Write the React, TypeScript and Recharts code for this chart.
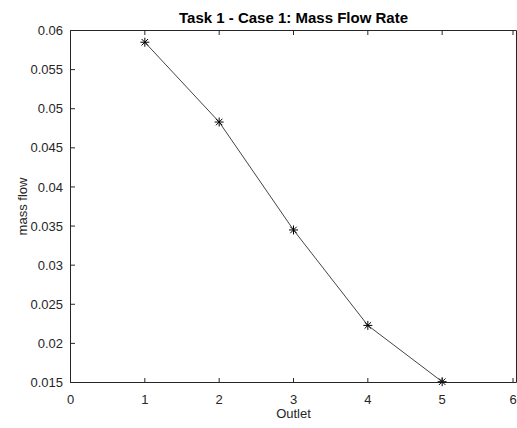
import { LineChart, Line, XAxis, YAxis } from "recharts";

const outlets = [1, 2, 3, 4, 5];
const massFlow = [0.0585, 0.0483, 0.0345, 0.0223, 0.0151];
const xTicks = [0, 1, 2, 3, 4, 5, 6];
const yTicks = [0.015, 0.02, 0.025, 0.03, 0.035, 0.04, 0.045, 0.05, 0.055, 0.06];

const data = outlets.map((o, i) => ({ outlet: o, flow: massFlow[i] }));

const FONT = '"Liberation Sans", Arial, Helvetica, sans-serif';
const AXIS = "#262626";
const TICK_LEN = 4.5;
const X_GAP = 12;
const Y_GAP = 7.5;

const Asterisk = (props: any) => {
  const { cx, cy } = props;
  if (cx == null || cy == null) return <g />;
  const r = 4.5;
  const d = r * 0.72;
  return (
    <g stroke="#000" strokeWidth={1}>
      <line x1={cx - r} y1={cy} x2={cx + r} y2={cy} />
      <line x1={cx} y1={cy - r} x2={cx} y2={cy + r} />
      <line x1={cx - d} y1={cy - d} x2={cx + d} y2={cy + d} />
      <line x1={cx - d} y1={cy + d} x2={cx + d} y2={cy - d} />
    </g>
  );
};

// inward MATLAB-style ticks are drawn by hand next to the labels
const BottomTick = (props: any) => {
  const { x, y, payload } = props;
  const axisY = y - X_GAP;
  return (
    <g>
      <line x1={x} y1={axisY} x2={x} y2={axisY - TICK_LEN} stroke={AXIS} />
      <text x={x} y={y} dy="0.71em" textAnchor="middle" fill={AXIS} fontSize={13} fontFamily={FONT}>
        {payload.value}
      </text>
    </g>
  );
};

const LeftTick = (props: any) => {
  const { x, y, payload } = props;
  const axisX = x + Y_GAP;
  return (
    <g>
      <line x1={axisX} y1={y} x2={axisX + TICK_LEN} y2={y} stroke={AXIS} />
      <text x={x} y={y} dy="0.355em" textAnchor="end" fill={AXIS} fontSize={13} fontFamily={FONT}>
        {payload.value}
      </text>
    </g>
  );
};

const TopTick = (props: any) => {
  const { x, y } = props;
  return <line x1={x} y1={y} x2={x} y2={y + TICK_LEN} stroke={AXIS} />;
};

const RightTick = (props: any) => {
  const { x, y } = props;
  return <line x1={x} y1={y} x2={x - TICK_LEN} y2={y} stroke={AXIS} />;
};

export default function App() {
  return (
    <div style={{ position: "absolute", left: 0, top: 0, background: "#fff" }}>
      <LineChart
        width={517}
        height={428}
        data={data}
        margin={{ top: 0, right: 0, bottom: 0, left: 0 }}
      >
        <XAxis
          dataKey="outlet"
          type="number"
          domain={[0, 6]}
          ticks={xTicks}
          height={45.5}
          stroke={AXIS}
          tickLine={false}
          tickSize={0}
          tickMargin={X_GAP}
          tick={<BottomTick />}
          label={{
            value: "Outlet",
            position: "insideBottom",
            offset: 10,
            fill: AXIS,
            fontSize: 13,
            fontFamily: FONT,
            style: { fontSize: 13, fontFamily: FONT },
          }}
        />
        <XAxis
          xAxisId="top"
          orientation="top"
          dataKey="outlet"
          type="number"
          domain={[0, 6]}
          ticks={xTicks}
          height={30.5}
          stroke={AXIS}
          tickLine={false}
          tickSize={0}
          tickMargin={0}
          tick={<TopTick />}
          label={{
            value: "Task 1 - Case 1: Mass Flow Rate",
            position: "insideTop",
            offset: 12,
            fill: "#000",
            fontSize: 15,
            fontWeight: "bold",
            fontFamily: FONT,
            style: { fontSize: 15, fontWeight: "bold", fontFamily: FONT },
          }}
        />
        <YAxis
          type="number"
          domain={[0.015, 0.06]}
          ticks={yTicks}
          width={70.5}
          stroke={AXIS}
          tickLine={false}
          tickSize={0}
          tickMargin={Y_GAP}
          tick={<LeftTick />}
          label={{
            value: "mass flow",
            angle: -90,
            position: "insideLeft",
            offset: 22,
            fill: AXIS,
            fontSize: 13,
            fontFamily: FONT,
            style: { textAnchor: "middle", fontSize: 13, fontFamily: FONT },
          }}
        />
        <YAxis
          yAxisId="right"
          orientation="right"
          type="number"
          domain={[0.015, 0.06]}
          ticks={yTicks}
          width={0.5}
          stroke={AXIS}
          tickLine={false}
          tickSize={0}
          tickMargin={0}
          tick={<RightTick />}
        />
        <Line
          dataKey="flow"
          type="linear"
          stroke="#444"
          strokeWidth={1}
          dot={<Asterisk />}
          activeDot={false}
          isAnimationActive={false}
        />
      </LineChart>
    </div>
  );
}
